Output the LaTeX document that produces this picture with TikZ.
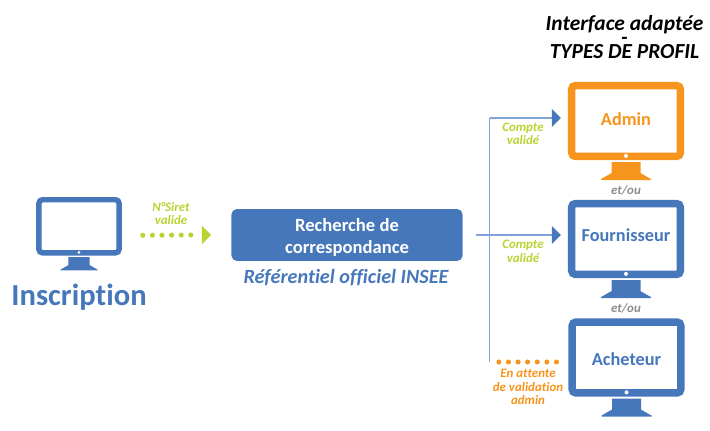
\documentclass[tikz,border=0pt]{standalone}
\usepackage{fontspec}
\setmainfont{Carlito}[Ligatures=NoCommon]
\usetikzlibrary{arrows.meta, calc}

\definecolor{brandblue}{HTML}{4677BB}
\definecolor{linkblue}{HTML}{7FA2D8}
\definecolor{adminorange}{HTML}{F7941E}
\definecolor{okgreen}{HTML}{B7D433}
\definecolor{oulabel}{HTML}{8C8C8C}

\begin{document}
\begin{tikzpicture}[
    x=0.02cm, y=-0.02cm,
    screen/.style={
        rectangle, rounded corners=2pt,
        draw=#1, fill=white, line width=4.25pt,
        minimum width=61.8pt, minimum height=40.25pt,
        inner sep=0pt, align=center, text=#1,
        font=\fontsize{10.4pt}{12pt}\selectfont\bfseries
    },
    smallscreen/.style={
        rectangle, rounded corners=2pt,
        draw=#1, fill=white, line width=3.1pt,
        minimum width=45.6pt, minimum height=30.2pt,
        inner sep=0pt
    },
    search/.style={
        rectangle, rounded corners=3pt,
        fill=brandblue, text=white,
        minimum width=131.5pt, minimum height=29.5pt,
        inner sep=0pt, align=center,
        font=\fontsize{10.6pt}{12.7pt}\selectfont\bfseries
    },
    note/.style={
        inner sep=0pt, align=center, text=#1,
        font=\fontsize{7.35pt}{7.7pt}\selectfont\bfseries\itshape
    },
    link/.style={line width=0.8pt, linkblue, -{Triangle[length=5.1pt,width=9.8pt,color=brandblue]}},
    bus/.style={line width=0.8pt, linkblue},
    dots/.style={line width=2.9pt, #1, line cap=round, dash pattern=on 0pt off 5.47pt},
    pics/stand/.style={code={
        \fill[#1] (-14.5,2) -- (14.5,2) -- (14.5,13) -- (25,19) -- (25,20)
            -- (-25,20) -- (-25,19) -- (-14.5,13) -- cycle;
        \fill[white] (0,-4.2) circle (2);
    }}
]

\useasboundingbox (0,0) rectangle (710,431);

\node (inscription) [smallscreen=brandblue] at (79,226.3) {};
\pic[scale=0.74] at (inscription.south) {stand=brandblue};
\node (inscriptionlabel) [text=brandblue, inner sep=0pt, font=\fontsize{17.4pt}{19pt}\selectfont\bfseries] at (79,297) {Inscription};

\node (search) [search] at (347,235)
    {\raisebox{-4.4pt}[0pt][0pt]{\begin{tabular}{@{}c@{}}Recherche de\\correspondance\end{tabular}}};
\node (insee) [inner sep=0pt, text=brandblue, font=\fontsize{11.5pt}{13pt}\selectfont\bfseries\itshape] at (346,278) {Référentiel officiel INSEE};

\node (admin) [screen=adminorange] at (626,121) {\raisebox{-2.3pt}[0pt][0pt]{Admin}};
\pic at (admin.south) {stand=adminorange};
\node (fournisseur) [screen=brandblue] at (626,239) {\raisebox{-1.2pt}[0pt][0pt]{Fournisseur}};
\pic at (fournisseur.south) {stand=brandblue};
\node (acheteur) [screen=brandblue] at (626.5,357.5) {\raisebox{-4.5pt}[0pt][0pt]{Acheteur}};
\pic at (acheteur.south) {stand=brandblue};

\node (title) [inner sep=0pt, align=center, font=\fontsize{12.2pt}{8.2pt}\selectfont\bfseries\itshape] at (624.5,37)
    {Interface adaptée\\-\\TYPES DE PROFIL};

\node (siret)  [note=okgreen] at (171,213.5) {N°Siret\\valide};
\node (compteA) [note=okgreen] at (523,134) {Compte\\validé};
\node (compteB) [note=okgreen] at (523,251.5) {Compte\\validé};
\node (attente) [note=adminorange] at (528,387) {En attente\\de validation\\admin};
\node (etouA) [note=oulabel] at (626,190) {et/ou};
\node (etouB) [note=oulabel] at (626,308) {et/ou};

\coordinate (busA) at (489.7,118);
\coordinate (busB) at (489.7,362);
\coordinate (siretend) at (192,235);
\coordinate (sirethead) at (202.3,235);

\draw[dots=okgreen] ([shift={(21,9)}]inscription.east) -- (siretend);
\draw[line width=0.1pt, okgreen, -{Triangle[length=5.1pt,width=10.4pt,color=okgreen]}] (sirethead) -- ([xshift=-11.5pt]sirethead -| search.west);

\draw[bus] (busA) -- (busB);
\draw[link] (busA) -- ([xshift=-4pt]busA -| admin.west);
\draw[link] ([xshift=7.4pt]search.east) -- ([xshift=-4pt]search.east -| fournisseur.west);
\draw[dots=adminorange] ([xshift=5.2pt]busB) -- ([xshift=-6.1pt]busB -| acheteur.west);

\end{tikzpicture}
\end{document}
